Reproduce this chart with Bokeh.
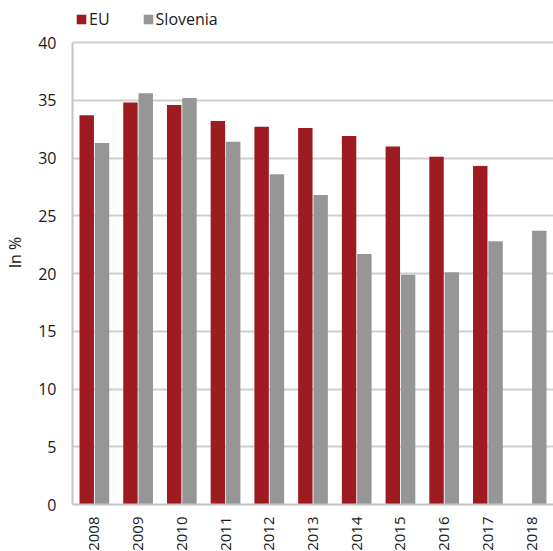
import numpy as np
from math import pi
from bokeh.plotting import figure
from bokeh.models import ColumnDataSource, FactorRange, Legend, LegendItem, FixedTicker
from bokeh.transform import dodge
from bokeh.embed import file_html
from bokeh.resources import INLINE

years = ["2008", "2009", "2010", "2011", "2012", "2013", "2014", "2015", "2016", "2017", "2018"]
eu = [33.7, 34.8, 34.6, 33.2, 32.7, 32.6, 31.9, 31.0, 30.1, 29.3, np.nan]
slovenia = [31.3, 35.6, 35.2, 31.4, 28.6, 26.8, 21.7, 19.9, 20.1, 22.8, 23.7]
y_ticks = [0, 5, 10, 15, 20, 25, 30, 35, 40]

RED = "#9E1B21"
GREY = "#969696"
FONT = "Open Sans"

src = ColumnDataSource(data=dict(years=years, eu=eu, slovenia=slovenia))

# frame includes headroom above 40 so the legend can sit there
p = figure(x_range=FactorRange(*years), y_range=(0, 43.64),
           frame_width=481, frame_height=504, output_backend="svg", toolbar_location=None,
           min_border_left=72, min_border_right=0, min_border_top=0, min_border_bottom=46)
p.outline_line_color = None
p.background_fill_color = "white"

r_eu = p.vbar(x=dodge("years", -0.175, range=p.x_range), top="eu", width=0.33,
              source=src, fill_color=RED, line_color=None)
r_si = p.vbar(x=dodge("years", 0.175, range=p.x_range), top="slovenia", width=0.33,
              source=src, fill_color=GREY, line_color=None)

# axes
p.yaxis.ticker = FixedTicker(ticks=y_ticks)
p.yaxis.bounds = (0, 40)
p.yaxis.axis_label = "In %"
p.yaxis.axis_label_text_font = FONT
p.yaxis.axis_label_text_font_size = "16px"
p.yaxis.axis_label_text_font_style = "normal"
p.yaxis.axis_label_text_color = "#1a1a1a"
p.yaxis.axis_label_standoff = 9
p.yaxis.major_label_text_font = FONT
p.yaxis.major_label_text_font_size = "16px"
p.yaxis.major_label_text_color = "#1a1a1a"
p.yaxis.major_label_standoff = 16
p.yaxis.major_tick_line_color = None
p.yaxis.minor_tick_line_color = None
p.yaxis.major_tick_out = 0
p.yaxis.minor_tick_out = 0
p.yaxis.axis_line_color = "#c4c4c4"
p.yaxis.axis_line_width = 2

p.xaxis.major_label_orientation = pi / 2
p.xaxis.major_label_text_font = FONT
p.xaxis.major_label_text_font_size = "15px"
p.xaxis.major_label_text_color = "#1a1a1a"
p.xaxis.major_label_standoff = 12
p.xaxis.major_tick_line_color = None
p.xaxis.major_tick_out = 0
p.xaxis.minor_tick_out = 0
p.xaxis.axis_line_color = "#c4c4c4"
p.xaxis.axis_line_width = 2

p.xgrid.grid_line_color = None
p.ygrid.grid_line_color = "#cfcfcf"
p.ygrid.grid_line_width = 2

legend = Legend(items=[LegendItem(label="EU", renderers=[r_eu]),
                       LegendItem(label="Slovenia", renderers=[r_si])],
                orientation="horizontal", location=(3, 474),
                glyph_width=12, glyph_height=12, label_standoff=2, spacing=32,
                padding=0, margin=0, border_line_color=None, background_fill_alpha=0,
                label_height=20,
                label_text_font=FONT, label_text_font_size="16px", label_text_color="#1a1a1a")
p.add_layout(legend, "center")

open("out.html", "w").write(file_html(p, INLINE))
